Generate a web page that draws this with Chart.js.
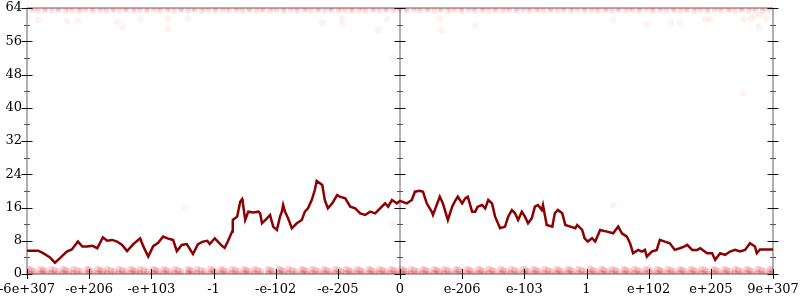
<!DOCTYPE html>
<html>
<head>
<meta charset="utf-8">
<script src="https://cdn.jsdelivr.net/npm/chart.js@4"></script>
<style>
  html, body { margin: 0; padding: 0; background: #fff; }
  #wrap { width: 800px; height: 300px; }
</style>
</head>
<body>
<div id="wrap"><canvas id="chart" width="800" height="300"></canvas></div>
<script>
// x axis labels (positions -6..6)
const xLabels = ["-6e+307", "-e+206", "-e+103", "-1", "-e-102", "-e-205", "0",
                 "e-206", "e-103", "1", "e+102", "e+205", "9e+307"];

// main histogram line
const lineX = [-6.00,-5.82,-5.74,-5.63,-5.55,-5.47,-5.36,-5.28,-5.18,-5.11,-5.03,-4.95,-4.87,-4.78,-4.71,-4.63,-4.55,-4.47,-4.39,-4.29,
  -4.18,-4.13,-4.05,-3.97,-3.89,-3.81,-3.73,-3.65,-3.59,-3.51,-3.43,-3.33,-3.25,-3.17,-3.10,-3.06,-2.98,-2.93,-2.86,-2.82,
  -2.77,-2.70,-2.69,-2.62,-2.57,-2.54,-2.53,-2.49,-2.44,-2.36,-2.28,-2.25,-2.22,-2.14,-2.09,-2.04,-1.98,-1.93,-1.90,-1.88,
  -1.85,-1.80,-1.74,-1.66,-1.58,-1.53,-1.48,-1.42,-1.37,-1.34,-1.25,-1.21,-1.16,-1.09,-1.01,-0.97,-0.88,-0.80,-0.72,-0.64,
  -0.56,-0.48,-0.40,-0.32,-0.24,-0.19,-0.13,-0.05,0.00,0.11,0.19,0.24,0.32,0.37,0.43,0.51,0.53,0.60,0.64,0.69,
  0.77,0.84,0.88,0.93,1.00,1.05,1.09,1.16,1.21,1.25,1.32,1.37,1.42,1.48,1.53,1.61,1.69,1.74,1.80,1.85,
  1.90,1.96,2.01,2.06,2.12,2.17,2.22,2.28,2.30,2.36,2.45,2.49,2.54,2.61,2.66,2.74,2.82,2.85,2.93,2.97,
  3.02,3.09,3.14,3.22,3.33,3.43,3.51,3.57,3.65,3.70,3.75,3.83,3.89,3.94,3.97,4.05,4.13,4.18,4.26,4.34,
  4.42,4.50,4.57,4.62,4.70,4.78,4.83,4.94,5.02,5.07,5.15,5.23,5.31,5.39,5.47,5.55,5.63,5.71,5.74,5.79,6.00];
const lineY = [5.6,5.6,5.0,4.0,2.7,3.8,5.4,5.9,7.8,6.6,6.6,6.8,6.2,8.8,8.0,8.2,7.8,7.0,5.5,7.2,
  8.6,6.7,4.2,6.7,7.5,9.0,8.5,8.2,5.5,7.0,7.2,4.8,7.2,7.8,8.0,7.2,8.6,7.8,6.7,6.3,
  7.8,10.2,13.0,13.8,17.4,18.0,17.4,13.0,15.0,14.8,15.0,14.6,12.2,13.4,14.2,11.4,10.6,13.8,15.0,16.6,
  15.0,13.4,11.0,12.2,13.0,15.0,15.8,17.8,20.2,22.4,21.4,17.8,15.8,17.0,19.0,18.6,18.2,16.2,15.8,14.6,
  14.2,15.0,14.6,15.8,17.0,16.2,17.8,17.0,17.6,17.0,17.8,19.8,20.0,19.8,17.0,15.0,14.2,17.0,18.6,17.0,
  13.0,16.2,17.4,18.6,17.0,18.2,18.6,15.0,15.0,16.2,16.6,15.8,17.8,17.0,13.8,11.0,11.4,13.8,15.4,14.6,
  13.0,15.0,13.8,12.2,13.4,16.2,16.6,15.4,16.6,11.8,11.4,14.6,15.4,14.6,11.8,11.4,11.0,11.8,10.6,8.6,
  7.8,8.6,7.8,10.6,10.2,9.8,11.4,9.8,9.0,7.4,5.0,5.8,5.4,5.8,4.2,5.4,5.8,8.2,7.8,7.4,
  5.8,6.2,6.6,7.0,5.8,5.8,6.2,5.0,5.0,3.4,5.0,4.6,5.4,5.8,5.4,5.8,7.4,6.6,5.0,5.9,5.9];

// faint scatter: band along 0 (three interleaved x rows)
const lowBandX = [-5.97,-5.78,-5.61,-5.42,-5.25,-5.03,-4.86,-4.71,-4.52,-4.33,-4.18,-3.97,-3.80,-3.62,-3.41,-3.26,-3.05,-2.88,-2.70,-2.51,
  -2.34,-2.12,-1.95,-1.79,-1.58,-1.41,-1.22,-1.04,-0.87,-0.69,-0.50,-0.33,-0.15,0.02,0.18,0.37,0.55,0.71,0.90,1.08,
  1.26,1.43,1.62,1.79,1.98,2.15,2.33,2.52,2.70,2.87,3.06,3.24,3.41,3.60,3.77,3.95,4.14,4.31,4.50,4.68,
  4.85,5.04,5.22,5.39,5.58,5.76,5.95];
const lowBandX2 = [-5.88,-5.70,-5.51,-5.33,-5.14,-4.95,-4.78,-4.60,-4.42,-4.25,-4.07,-3.89,-3.71,-3.52,-3.34,-3.15,-2.97,-2.79,-2.60,-2.43,
  -2.24,-2.04,-1.87,-1.68,-1.50,-1.31,-1.13,-0.95,-0.78,-0.60,-0.41,-0.24,-0.06,0.10,0.28,0.46,0.63,0.81,0.99,1.17,
  1.35,1.52,1.71,1.89,2.06,2.24,2.43,2.61,2.78,2.97,3.15,3.33,3.50,3.69,3.86,4.05,4.22,4.41,4.59,4.77,
  4.94,5.13,5.31,5.49,5.67,5.86];
const lowBandX3 = [-5.93,-5.74,-5.56,-5.38,-5.19,-5.00,-4.82,-4.65,-4.47,-4.29,-4.12,-3.93,-3.76,-3.57,-3.38,-3.20,-3.01,-2.84,-2.65,-2.47,
  -2.29,-2.08,-1.91,-1.73,-1.54,-1.36,-1.18,-0.99,-0.82,-0.64,-0.46,-0.28,-0.10,0.06,0.23,0.41,0.59,0.76,0.94,1.12,
  1.30,1.48,1.66,1.84,2.02,2.19,2.38,2.56,2.74,2.92,3.10,3.28,3.46,3.64,3.82,4.00,4.18,4.36,4.54,4.72,
  4.90,5.08,5.26,5.44,5.62,5.81,5.98];

// faint scatter: band along 64
const topBandX = [-5.93,-5.71,-5.49,-5.27,-5.06,-4.83,-4.62,-4.40,-4.18,-3.96,-3.74,-3.52,-3.30,-3.08,-2.86,-2.64,-2.42,-2.20,-1.98,-1.76,
  -1.54,-1.32,-1.10,-0.88,-0.66,-0.44,-0.22,0.00,0.22,0.44,0.66,0.88,1.10,1.32,1.54,1.76,1.98,2.20,2.42,2.64,
  2.86,3.08,3.30,3.52,3.74,3.96,4.18,4.40,4.62,4.84,5.06,5.28,5.50,5.72,5.94];
const topBandX2 = [-5.82,-5.60,-5.38,-5.16,-4.94,-4.72,-4.51,-4.29,-4.07,-3.85,-3.63,-3.41,-3.19,-2.97,-2.75,-2.53,-2.31,-2.09,-1.87,-1.65,
  -1.43,-1.21,-0.99,-0.77,-0.55,-0.33,-0.11,0.11,0.33,0.55,0.77,0.99,1.21,1.43,1.65,1.87,2.09,2.31,2.53,2.75,
  2.97,3.19,3.41,3.63,3.85,4.07,4.29,4.51,4.73,4.95,5.17,5.39,5.61,5.83];

// stray faint points
const strayX = [-5.98,-5.82,-5.36,-5.18,-4.55,-4.46,-4.18,-3.73,-3.73,-3.41,-1.25,-0.93,-0.93,-0.35,-0.21,-0.11,0.63,0.66,1.21,3.43,
  3.97,4.36,4.50,4.91,4.99,5.53,5.65,5.71,5.79,5.77,5.90,5.52,-3.46,-0.11,3.43];
const strayY = [61.5,61.1,60.9,60.9,60.6,59.4,61.5,61.5,58.9,61.5,60.6,61.5,60.1,58.7,61.3,52.0,61.5,58.7,59.7,61.1,
  60.1,60.6,60.4,61.3,61.3,61.3,61.5,62.2,62.2,59.4,61.5,43.5,16.0,12.0,16.6];

const toPts = (xs, ys) => xs.map((x, i) => ({ x: x, y: ys[i] }));
const rowPts = (xs, y) => xs.map(x => ({ x: x, y: y }));

const lowPts = [].concat(
  rowPts(lowBandX, 0), rowPts(lowBandX2, 0), rowPts(lowBandX3, 0), rowPts(lowBandX, 0.3),
  rowPts(lowBandX2, 0.7), rowPts(lowBandX3, 1.0), rowPts(lowBandX, 1.2));
const topPts = [].concat(
  rowPts(topBandX, 64), rowPts(topBandX2, 64), rowPts(topBandX, 63.5), rowPts(topBandX2, 63.3),
  rowPts(lowBandX2, 63.8));

const FONT = { family: "'DejaVu Serif', serif", size: 13 };

// axis frame and tick marks drawn through the scales
const framePlugin = {
  id: "frame",
  beforeDatasetsDraw(chart) {
    const { ctx, chartArea: a, scales: { x, y } } = chart;
    const xs = [x.getPixelForValue(-6), x.getPixelForValue(0), x.getPixelForValue(6)];
    ctx.save();
    ctx.strokeStyle = "#b0b0b0";
    ctx.lineWidth = 2;
    ctx.beginPath();
    xs.forEach(px => { ctx.moveTo(px, a.top); ctx.lineTo(px, a.bottom); });
    ctx.moveTo(a.left, y.getPixelForValue(64)); ctx.lineTo(a.right, y.getPixelForValue(64));
    ctx.moveTo(a.left, y.getPixelForValue(0)); ctx.lineTo(a.right, y.getPixelForValue(0));
    ctx.stroke();
    ctx.restore();
  },
  afterDatasetsDraw(chart) {
    const { ctx, scales: { x, y } } = chart;
    const xs = [x.getPixelForValue(-6), x.getPixelForValue(0), x.getPixelForValue(6)];
    ctx.save();
    ctx.lineWidth = 1;
    y.ticks.forEach(t => {
      const py = Math.round(y.getPixelForValue(t.value)) + 0.5;
      ctx.strokeStyle = "#111";
      ctx.beginPath();
      xs.forEach(px => { ctx.moveTo(px - 5.5, py); ctx.lineTo(px + 5.5, py); });
      ctx.stroke();
      if (t.value < 64) {
        const pm = Math.round(y.getPixelForValue(t.value + 4)) + 0.5;
        ctx.strokeStyle = "#555";
        ctx.beginPath();
        xs.forEach(px => { ctx.moveTo(px - 3, pm); ctx.lineTo(px + 3, pm); });
        ctx.stroke();
      }
    });
    const by = y.getPixelForValue(0);
    ctx.strokeStyle = "#111";
    ctx.beginPath();
    x.ticks.forEach(t => {
      const px = Math.round(x.getPixelForValue(t.value)) + 0.5;
      ctx.moveTo(px, by - 5); ctx.lineTo(px, by + 5);
    });
    ctx.stroke();
    ctx.restore();
  }
};

new Chart(document.getElementById("chart").getContext("2d"), {
  type: "scatter",
  data: {
    datasets: [
      {
        data: toPts(lineX, lineY),
        showLine: true,
        borderColor: "#8b0000",
        borderWidth: 2.5,
        pointRadius: 0,
        fill: false,
        tension: 0,
        order: 0
      },
      {
        data: lowPts,
        pointRadius: 3.2,
        pointBorderWidth: 0,
        backgroundColor: "rgba(230,20,35,0.18)",
        borderColor: "rgba(255,0,0,0)",
        order: 1
      },
      {
        data: topPts,
        pointRadius: 2.8,
        pointBorderWidth: 0,
        backgroundColor: "rgba(240,30,40,0.11)",
        borderColor: "rgba(255,0,0,0)",
        order: 2
      },
      {
        data: toPts(strayX, strayY),
        pointRadius: 3.5,
        pointBorderWidth: 0,
        backgroundColor: "rgba(255,0,0,0.05)",
        borderColor: "rgba(255,0,0,0)",
        order: 3
      }
    ]
  },
  options: {
    responsive: false,
    animation: false,
    layout: { padding: { top: 8, right: 27, left: 0, bottom: 0 } },
    plugins: { legend: { display: false }, tooltip: { enabled: false } },
    scales: {
      x: {
        type: "linear",
        min: -6, max: 6,
        grid: { display: false, drawTicks: false },
        border: { display: false },
        ticks: {
          stepSize: 1, autoSkip: false, maxRotation: 0, padding: 8,
          color: "#000", font: FONT,
          callback: v => xLabels[Math.round(v) + 6]
        },
        afterFit(s) { s.height = 26; s.paddingLeft = 0; s.paddingRight = 0; }
      },
      y: {
        min: 0, max: 64,
        grid: { display: false, drawTicks: false },
        border: { display: false },
        ticks: { stepSize: 8, padding: 5, color: "#000", font: FONT },
        afterFit(s) { s.width = 27; s.paddingTop = 0; s.paddingBottom = 0; }
      }
    }
  },
  plugins: [framePlugin]
});
</script>
</body>
</html>
